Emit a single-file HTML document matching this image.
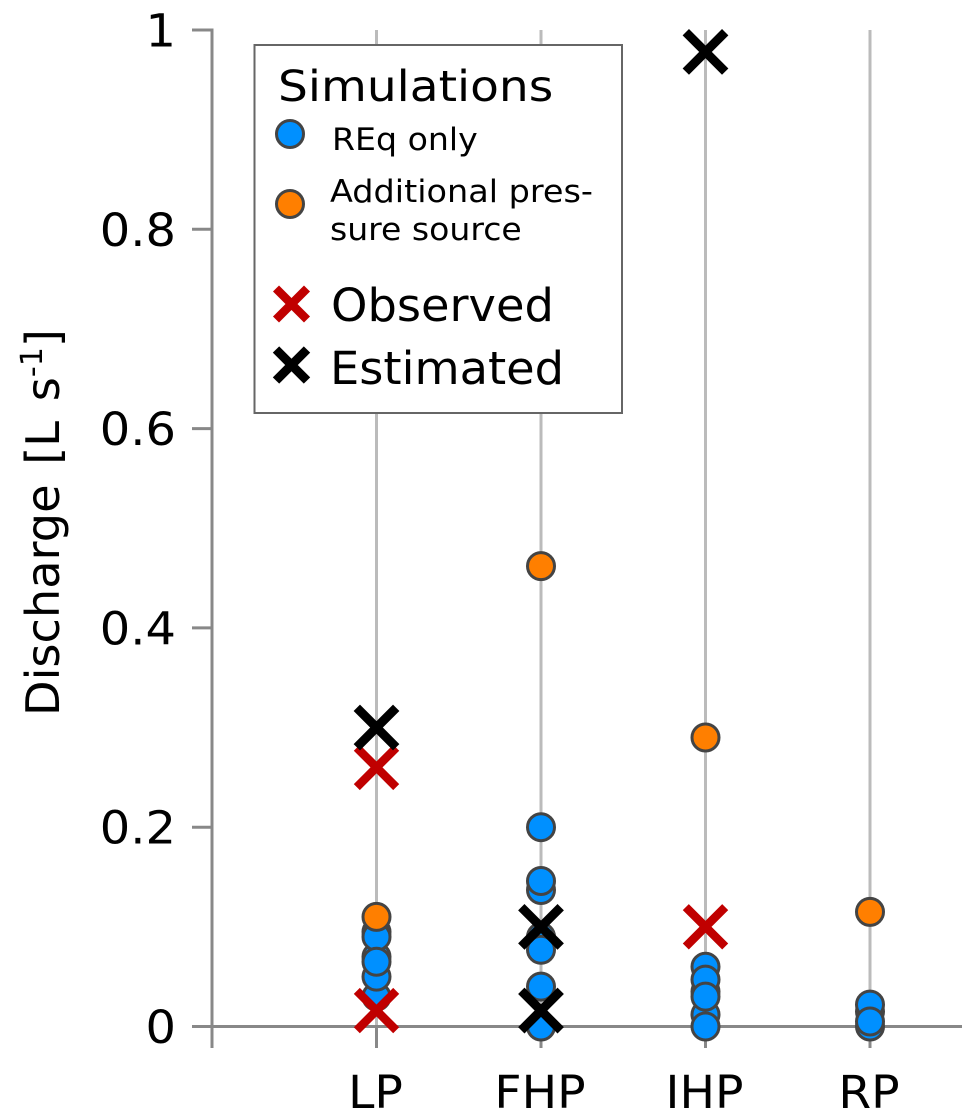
<!DOCTYPE html>
<html lang="en">
<head>
<meta charset="utf-8">
<title>Discharge chart</title>
<style>
html,body{margin:0;padding:0;background:#fff;}
svg{display:block;}
text{font-family:"DejaVu Sans","Liberation Sans",sans-serif;fill:#000;}
</style>
</head>
<body>
<svg id="chart" xmlns="http://www.w3.org/2000/svg" width="980" height="1120" viewBox="0 0 980 1120">
  <g id="grid"></g>
  <g id="axes"></g>
  <g id="marks"></g>
  <text transform="translate(59,716) rotate(-90) scale(1.005,1)" font-size="46" word-spacing="5">Discharge [L s<tspan dy="-17" font-size="30">-1</tspan><tspan dy="17">]</tspan></text>
  <g>
    <rect x="254.5" y="45" width="367.5" height="368" fill="#fff" stroke="#666" stroke-width="2"/>
    <text transform="translate(278,101) scale(1.095,1)" font-size="43">Simulations</text>
    <circle cx="290" cy="134" r="13.5" fill="#0090ff" stroke="#444" stroke-width="3"/>
    <text transform="translate(332,150) scale(1.07,1)" font-size="31">REq only</text>
    <circle cx="290" cy="204" r="13.5" fill="#ff7f00" stroke="#444" stroke-width="3"/>
    <text transform="translate(330,202) scale(1.08,1)" font-size="31">Additional pres-</text>
    <text transform="translate(330,240) scale(1.067,1)" font-size="31">sure source</text>
    <path d="M276,288.500L307,319.500M307,288.500L276,319.500" stroke="#c00000" stroke-width="8.500" fill="none"/>
    <text transform="translate(331,321) scale(1.03,1)" font-size="45">Observed</text>
    <path d="M276,349.500L307,380.500M307,349.500L276,380.500" stroke="#000" stroke-width="9" fill="none"/>
    <text transform="translate(330,384) scale(1.03,1)" font-size="45">Estimated</text>
  </g>
</svg>
<script>
const categories = ['LP', 'FHP', 'IHP', 'RP'];
const yTicks = [0, 0.2, 0.4, 0.6, 0.8, 1];
const yTickLabels = ['0', '0.2', '0.4', '0.6', '0.8', '1'];
const reqOnlyLP = [0.03, 0.05, 0.07, 0.095, 0.09, 0.065];
const reqOnlyFHP = [0, 0.04, 0.09, 0.077, 0.137, 0.146, 0.2];
const reqOnlyIHP = [0.012, 0.035, 0.06, 0.047, 0.03, 0];
const reqOnlyRP = [0, 0.015, 0.022, 0.005];
const additionalPressure = [0.11, 0.462, 0.29, 0.115];
const observedCategory = ['LP', 'LP', 'IHP'];
const observedValues = [0.26, 0.016, 0.1];
const estimatedCategory = ['LP', 'FHP', 'FHP', 'IHP'];
const estimatedValues = [0.3, 0.1, 0.016, 0.978];

const NS = 'http://www.w3.org/2000/svg';
const xScale = i => 212 + 164.5 * (i + 1);
const yScale = v => 1026.5 - 996.5 * v;
const make = (tag, parent, attrs) => {
  const el = document.createElementNS(NS, tag);
  Object.keys(attrs).forEach(k => el.setAttribute(k, attrs[k]));
  parent.appendChild(el);
  return el;
};
const grid = document.getElementById('grid');
const axes = document.getElementById('axes');
const marks = document.getElementById('marks');

categories.forEach((c, i) => {
  const x = xScale(i);
  const g = make('line', grid, {x1: x, x2: x, y1: 30, y2: 1026.5, stroke: '#bbb', 'stroke-width': 3});
  
  
  const t = make('line', axes, {x1: x, x2: x, y1: 1026.5, y2: 1048, stroke: '#888', 'stroke-width': 3});
  
  
  const l = make('text', axes, {transform: `translate(${x - 1},1108) scale(1.05,1)`, 'text-anchor': 'middle', 'font-size': 45});
  l.textContent = c;
  
  
});

const yAxis = make('line', axes, {x1: 212, x2: 212, y1: 28.500, y2: 1048, stroke: '#888', 'stroke-width': 3});


const xAxis = make('line', axes, {x1: 212, x2: 962, y1: yScale(0), y2: yScale(0), stroke: '#888', 'stroke-width': 3});



yTicks.forEach((v, i) => {
  const y = yScale(v);
  const t = make('line', axes, {x1: 192, x2: 212, y1: y, y2: y, stroke: '#888', 'stroke-width': 3});
  
  
  const l = make('text', axes, {transform: `translate(176,${y + 16.5}) scale(1.065,1)`, 'text-anchor': 'end', 'font-size': 45});
  l.textContent = yTickLabels[i];
  
  
});

function circle(catIndex, value, fill) {
  const el = make('circle', marks, {cx: xScale(catIndex), cy: yScale(value), r: 13.5, fill: fill, stroke: '#444', 'stroke-width': 3});
  
  
}
function cross(catIndex, value, color) {
  const x = xScale(catIndex), y = yScale(value), h = 19.7;
  const el = make('path', marks, {d: `M${x - h},${y - h}L${x + h},${y + h}M${x + h},${y - h}L${x - h},${y + h}`, stroke: color, 'stroke-width': color === '#000' ? 9 : 8.5, fill: 'none'});
  
  
}
[reqOnlyLP, reqOnlyFHP, reqOnlyIHP, reqOnlyRP].forEach((series, i) => {
  series.forEach(v => circle(i, v, '#0090ff'));
});
additionalPressure.forEach((v, i) => circle(i, v, '#ff7f00'));
observedValues.forEach((v, i) => cross(categories.indexOf(observedCategory[i]), v, '#c00000'));
estimatedValues.forEach((v, i) => cross(categories.indexOf(estimatedCategory[i]), v, '#000'));
</script>
</body>
</html>
